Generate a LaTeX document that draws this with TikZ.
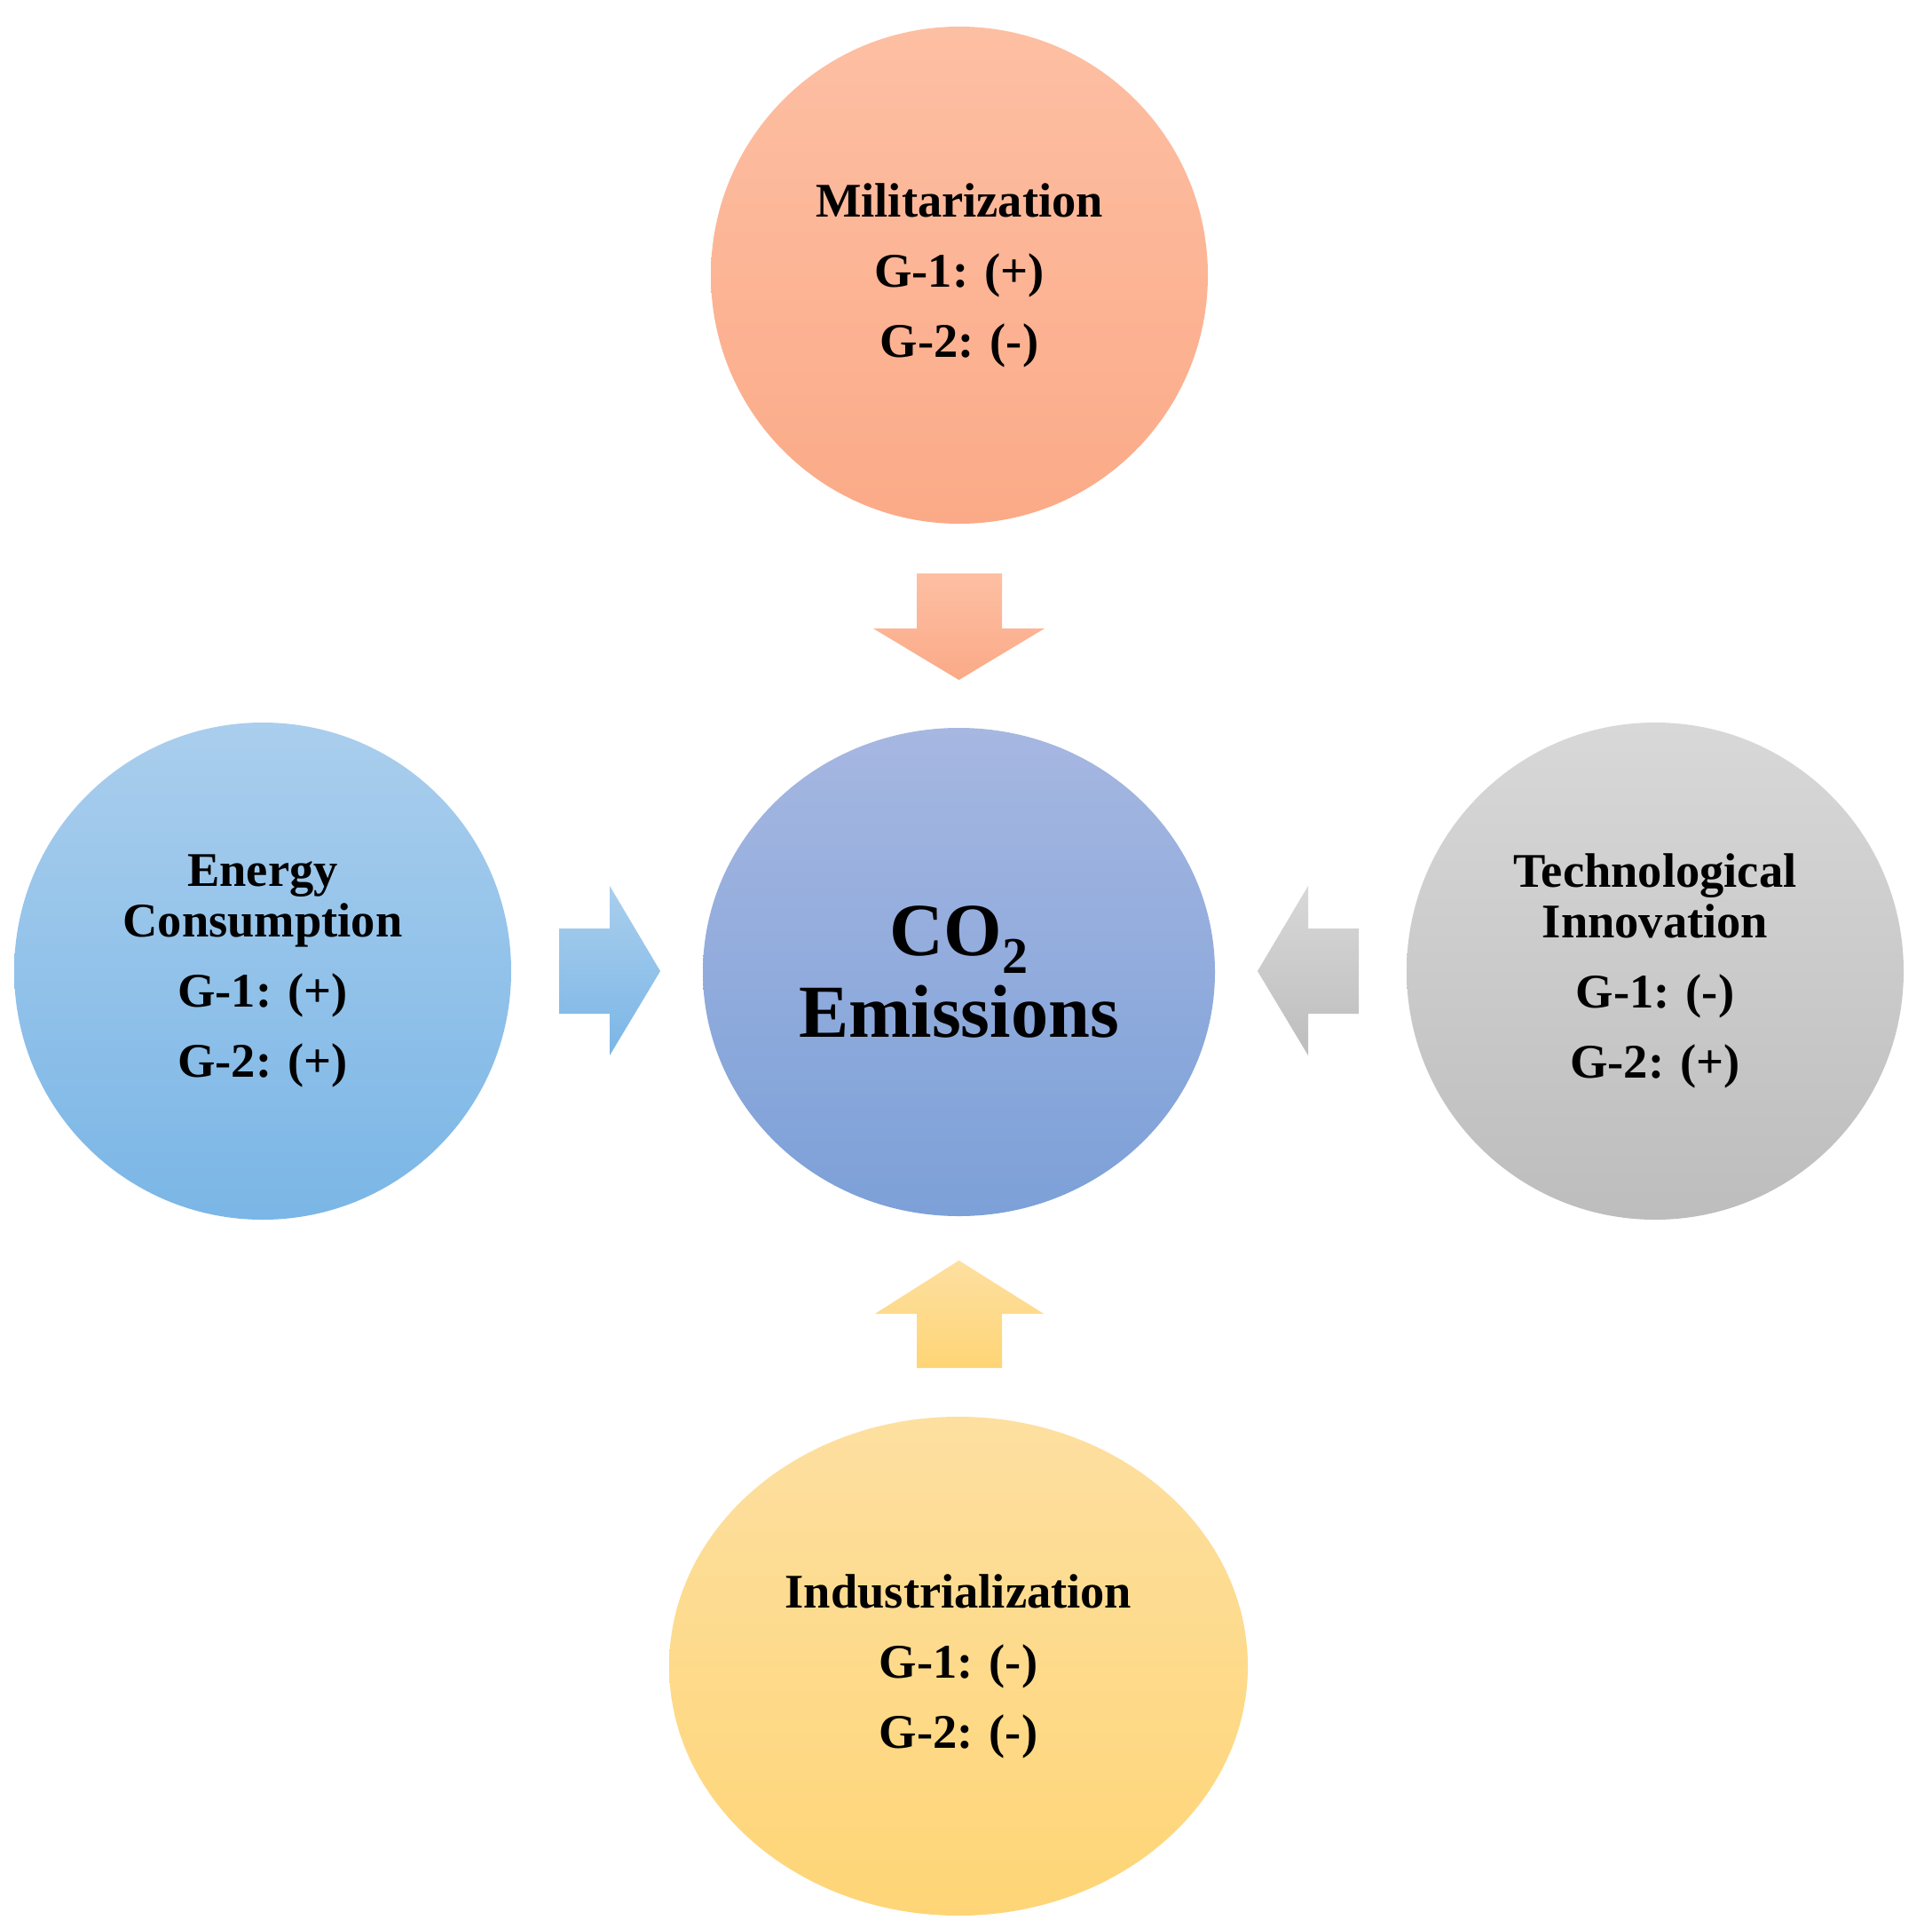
\documentclass[tikz,border=0pt]{standalone}
\usepackage{fontspec}
\setmainfont{Liberation Serif}
\usetikzlibrary{shapes.geometric}
\definecolor{milT}{RGB}{253,191,163}
\definecolor{milB}{RGB}{251,170,135}
\definecolor{coT}{RGB}{166,183,225}
\definecolor{coB}{RGB}{124,160,216}
\definecolor{enT}{RGB}{170,206,237}
\definecolor{enB}{RGB}{122,182,230}
\definecolor{teT}{RGB}{216,216,216}
\definecolor{teB}{RGB}{189,189,189}
\definecolor{inT}{RGB}{253,223,160}
\definecolor{inB}{RGB}{254,213,118}
\tikzset{
  bubble/.style={circle, inner sep=0pt, minimum size=5.6cm, align=center,
    font=\bfseries\fontsize{15.5}{16.2}\selectfont},
  oval/.style={ellipse, inner sep=0pt, align=center},
  blockarrow/.style={draw=none}
}
\begin{document}
\begin{tikzpicture}
\useasboundingbox (0,0) rectangle (21.77,-21.71);
\fill[white] (0,0) rectangle (21.77,-21.71);

% circles
\node[bubble, top color=milT, bottom color=milB] (mil) at (10.81,-3.10)
  {Militarization\\[6.3pt]G-1: (+)\\[6.3pt]G-2: (-)};
\node[bubble, top color=enT, bottom color=enB] (ene) at (2.96,-10.94)
  {Energy\\Consumption\\[6.3pt]G-1: (+)\\[6.3pt]G-2: (+)};
\node[bubble, top color=teT, bottom color=teB] (tec) at (18.65,-10.94)
  {Technological\\Innovation\\[6.3pt]G-1: (-)\\[6.3pt]G-2: (+)};
\node[oval, minimum width=6.52cm, minimum height=5.62cm,
  font=\bfseries\fontsize{15.5}{16.2}\selectfont,
  top color=inT, bottom color=inB] (ind) at (10.80,-18.77)
  {Industrialization\\[6.3pt]G-1: (-)\\[6.3pt]G-2: (-)};
\node[oval, minimum width=5.77cm, minimum height=5.50cm,
  font=\bfseries\fontsize{24}{26}\selectfont,
  top color=coT, bottom color=coB] (co) at (10.805,-10.95)
  {CO\raisebox{-5.5pt}[\height][0pt]{\fontsize{16.5}{16.5}\selectfont 2}\\Emissions};

% block arrows
\shade[blockarrow, top color=milT, bottom color=milB]
  (10.33,-6.46) -- (11.29,-6.46) -- (11.29,-7.08) -- (11.77,-7.08)
  -- (10.805,-7.66) -- (9.84,-7.08) -- (10.33,-7.08) -- cycle;
\shade[blockarrow, top color=inT, bottom color=inB]
  (10.33,-15.41) -- (11.29,-15.41) -- (11.29,-14.80) -- (11.76,-14.80)
  -- (10.805,-14.20) -- (9.86,-14.80) -- (10.33,-14.80) -- cycle;
\shade[blockarrow, top color=enT, bottom color=enB]
  (6.30,-10.46) -- (6.87,-10.46) -- (6.87,-9.98) -- (7.44,-10.94)
  -- (6.87,-11.89) -- (6.87,-11.42) -- (6.30,-11.42) -- cycle;
\shade[blockarrow, top color=teT, bottom color=teB]
  (15.31,-10.46) -- (14.74,-10.46) -- (14.74,-9.98) -- (14.17,-10.94)
  -- (14.74,-11.89) -- (14.74,-11.42) -- (15.31,-11.42) -- cycle;
\end{tikzpicture}
\end{document}
